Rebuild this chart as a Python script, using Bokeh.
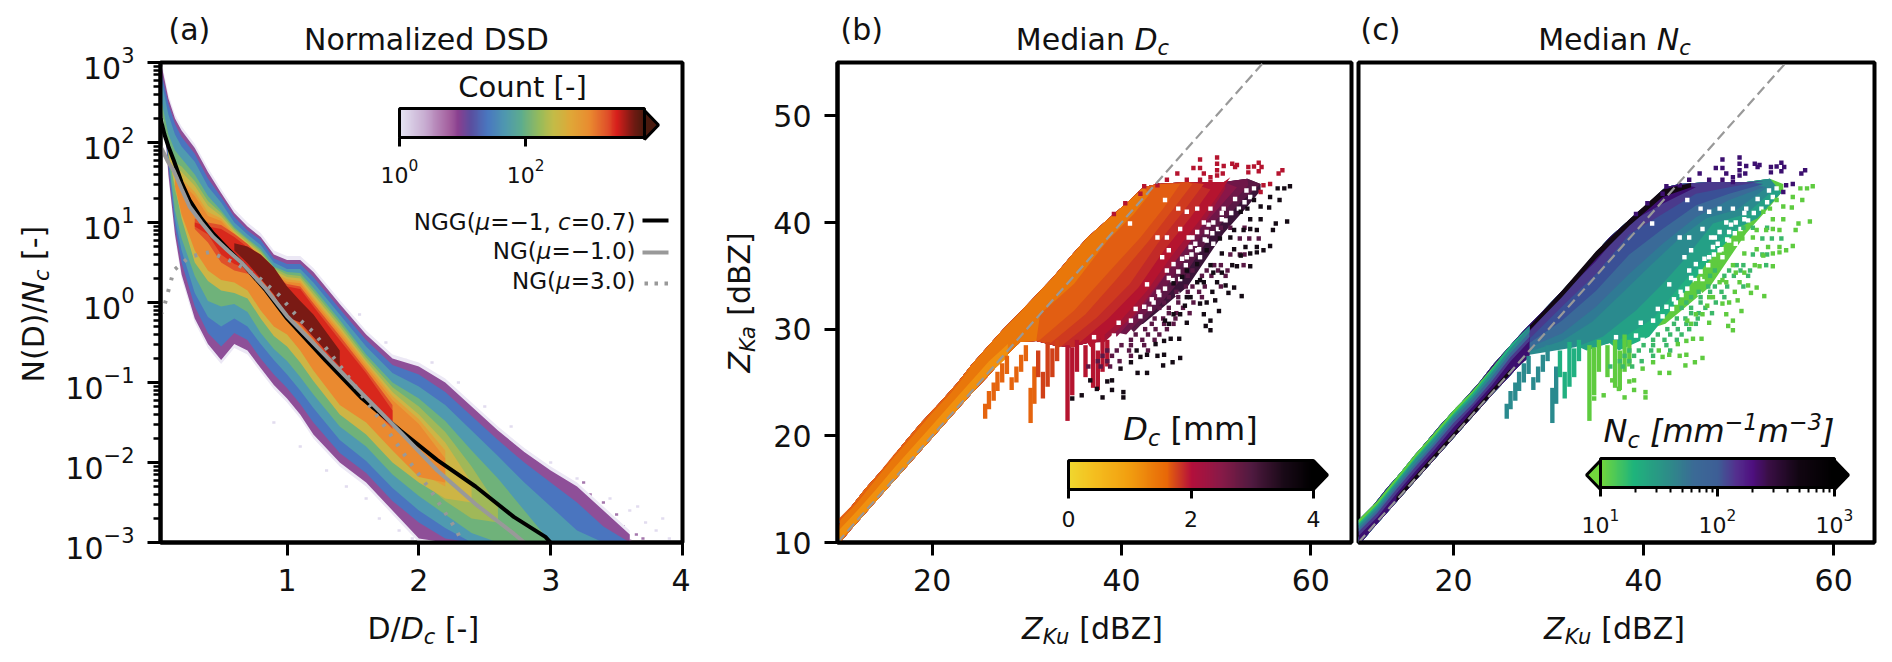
import numpy as np
from bokeh.plotting import figure
from bokeh.layouts import row, column
from bokeh.embed import file_html
from bokeh.resources import INLINE
from bokeh.models import (Label, Range1d, ColorBar, LogColorMapper, LinearColorMapper, FixedTicker,
                          LogTickFormatter, PolyAnnotation, BasicTickFormatter)

# ---------- panel (a): density bands, log10 of N(D)/Nc read at D/Dc grid ----------
D_GRID = [.05,.1,.15,.2,.3,.4,.5,.6,.7,.8,.9,1.0,1.1,1.2,1.4,1.6,1.8,2.0,2.2,2.4,2.6,2.8,3.0,3.2,3.4,3.6]
purple_top = [2.95,2.55,2.3,2.15,1.93,1.63,1.37,1.12,.95,.82,.6,.53,.53,.38,-.02,-.4,-.7,-.8,-1.0,-1.3,-1.6,-1.87,-2.1,-2.3,-2.6,-2.9]
purple_bot = [2.7,1.6,.85,.35,-.2,-.52,-.72,-.52,-.6,-.82,-1.03,-1.2,-1.4,-1.65,-2.0,-2.25,-2.6,-2.95,-3,-3,-3,-3,-3,-3,-3,-3]
blue_top = [2.85,2.48,2.23,2.07,1.86,1.55,1.32,1.07,.9,.78,.55,.48,.48,.32,-.08,-.47,-.78,-.9,-1.12,-1.42,-1.72,-2.0,-2.25,-2.5,-2.8,-3]
blue_bot = [2.6,1.7,.95,.5,-.05,-.38,-.55,-.38,-.47,-.7,-.9,-1.07,-1.27,-1.5,-1.88,-2.13,-2.48,-2.75,-2.95,-3,-3,-3,-3,-3,-3,-3]
teal_top = [2.75,2.35,2.1,1.95,1.76,1.45,1.25,1.0,.85,.72,.5,.42,.42,.25,-.15,-.55,-.88,-1.05,-1.28,-1.6,-1.92,-2.25,-2.55,-2.85,-3]
teal_bot = [2.5,1.8,1.05,.65,.12,-.18,-.3,-.2,-.3,-.52,-.72,-.9,-1.1,-1.32,-1.72,-1.98,-2.32,-2.6,-2.82,-3,-3,-3,-3,-3,-3]
green_top = [2.5,2.1,1.9,1.8,1.6,1.33,1.15,.94,.8,.67,.45,.38,.37,.18,-.22,-.65,-1.0,-1.2,-1.48,-1.85,-2.2,-2.6,-3]
green_bot = [2.4,1.85,1.15,.8,.33,.02,-.05,-.02,-.12,-.38,-.58,-.73,-.93,-1.15,-1.55,-1.8,-2.15,-2.42,-2.65,-2.88,-3,-3,-3]
olive_top = [2.0,1.75,1.7,1.52,1.27,1.12,.92,.78,.64,.43,.35,.33,.14,-.26,-.69,-1.06,-1.3,-1.62,-2.05,-2.55]
olive_bot = [1.9,1.4,1.1,.62,.3,.18,.16,.1,-.16,-.4,-.52,-.72,-.95,-1.36,-1.6,-1.95,-2.2,-2.48,-2.7,-2.75]
yellow_top = [1.9,1.7,1.63,1.46,1.21,1.08,.89,.75,.62,.4,.32,.3,.1,-.3,-.73,-1.12,-1.4,-1.75,-2.25]
yellow_bot = [1.85,1.45,1.05,.5,.27,.15,.12,.05,-.2,-.42,-.55,-.75,-.98,-1.4,-1.65,-2.0,-2.25,-2.45,-2.5]
amber_top = [1.6,1.55,1.38,1.13,1.05,.87,.73,.6,.37,.29,.27,.06,-.34,-.76,-1.17,-1.46,-1.85]
amber_bot = [1.5,1.2,.75,.45,.3,.28,.19,-.06,-.27,-.37,-.57,-.82,-1.25,-1.46,-1.8,-2.12,-2.3]
orange_top = [1.55,1.5,1.33,1.08,1.02,.84,.7,.57,.35,.26,.24,.03,-.38,-.8,-1.22,-1.52,-1.95]
orange_bot = [1.45,1.1,.65,.4,.28,.25,.15,-.1,-.3,-.4,-.6,-.85,-1.28,-1.5,-1.85,-2.18,-2.25]
vermil_top = [1.05,1.0,.97,.86,.73,.56,.33,.23,.2,-.01,-.42,-.84,-1.28]
vermil_bot = [.92,.75,.5,.4,.36,.25,.08,-.15,-.28,-.46,-.9,-1.25,-1.58]
red_top = [1.0,.95,.92,.82,.69,.53,.3,.2,.17,-.05,-.47,-.88,-1.35]
red_bot = [.95,.85,.6,.48,.42,.3,.12,-.1,-.25,-.42,-.85,-1.2,-1.5]
dark_top = [.74,.7,.6,.44,.2,.02,-.15,-.6]
dark_bot = [.65,.49,.3,.1,-.18,-.25,-.43,-.8]
faint_x = [1.3,1.45,1.6,1.7,1.85,1.95,.9,1.1,1.55,1.75,1.9,2.1,2.3,2.5,2.7,3.0,3.2,3.45,3.6,3.72,3.8,3.9,3.66,3.85]
faint_y = [-2.1,-2.3,-2.45,-2.7,-2.85,-2.95,-1.5,-1.8,-.15,-.5,-.72,-.75,-1.0,-1.3,-1.55,-2.0,-2.2,-2.45,-2.6,-2.75,-2.85,-2.95,-2.55,-2.7]
speck_x = [3.3,3.4,3.5,3.55,3.65,3.7,3.45,3.6,3.25,3.35]
speck_y = [-2.4,-2.5,-2.65,-2.8,-2.9,-2.95,-2.75,-2.98,-2.25,-2.55]

ngg_d = [.04,.07,.1,.14,.2,.26,.35,.44,.55,.66,.84,1.0,1.29,1.57,1.86,2.14,2.43,2.72,2.96,3.0]
ngg_y = [2.3,2.1,1.95,1.78,1.5,1.28,1.05,.86,.67,.49,.15,-.2,-.72,-1.2,-1.6,-1.97,-2.3,-2.68,-2.93,-3]
ng_d = [.04,.07,.1,.14,.2,.26,.35,.44,.55,.66,.84,1.0,1.29,1.57,1.86,2.14,2.43,2.72,2.8]
ng_y = [1.95,1.85,1.75,1.65,1.42,1.2,1.0,.82,.65,.49,.17,-.17,-.66,-1.14,-1.62,-2.1,-2.52,-2.89,-3]
ng3_d = [.04,.06,.14,.26,.41,.6,.78,.94,1.1,1.2,1.43,1.72,1.92,2.09,2.28,2.33]
ng3_y = [-.15,-.1,.4,.57,.63,.5,.32,.09,-.22,-.37,-.85,-1.5,-1.97,-2.35,-2.83,-3]

count_ticks = [1, 100]
count_high = 7600
dc_ticks = [0, 2, 4]
nc_ticks = [10, 100, 1000]
nc_minor = [20,30,40,50,60,70,80,90,200,300,400,500,600,700,800,900]

# ---------- panels (b), (c): ZKu / ZKa occupied region ----------
body_x = [10,10.3,11.4,13,15.3,17,18.8,20.8,22.7,24.2,25.8,27.5,29.3,31,32.8,34.6,36.4,38.8,40.9,42.3,43.8,47,50.8,53.3,54.7]
body_top = [10.3,12.1,13.3,15.1,17.4,19.3,21.2,23.1,25,26.7,28.3,30,31.6,33.2,34.9,36.8,38.6,40.5,42.1,43.3,43.6,43.8,43.8,44.1,43.6]
body_low = [10,10,11.2,12.8,15.1,16.8,18.6,20.6,22.5,24,25.5,27.2,28.8,28.9,28.5,28.3,28.7,29.8,30.1,30.5,31.6,34,39,41.5,43]

# median Dc isolines (ZKu, ZKa), darkest region first
dc_iso_x = [[41.3,43.8,46.6,49.7,52.6,54.7],[40.5,43,45.5,48.3,51.2,53.4],[39.5,42,44.5,46.9,49.7,52.2],[38.2,41.3,43.9,46.6,49,51],
            [36.7,39.9,42.7,45.2,48,50.1,51.5],[35,38.6,41.8,44.5,47.3,49.4],[33.5,37.4,40.9,43.8,46.6,48.7],[32.4,36.2,39.4,42.9,45.4,47.5],
            [31.4,35,38.5,42,44.5,46.2],[31.4,35,38.5,41.3,43]]
dc_iso_y = [[29.7,32,35,39.1,41.9,43.6],[29.5,31.9,35,38.6,41.4,43.5],[29.3,31.75,34.9,38,40.8,43.3],[28.8,31.3,34.3,37.4,40.4,43.2],
            [28.3,30.8,33.6,36.75,39.9,42.4,44.25],[28.3,31,33.9,37.4,40.5,43.1],[28.3,31.1,34.25,38,41.1,43.6],[28.6,31.4,34.6,38.3,41.2,43.6],
            [29,31.75,35.2,38.6,41.4,43.6],[31.4,34.25,38.3,40.8,42.7]]
dc_colors = ["#5a1845","#6f1648","#8a1648","#a01538","#b5142f","#c22a28","#cf3a1f","#d94d18","#e25e12","#e9770a"]
# median Nc isolines (ZKu, ZKa), lightest region first
nc_iso_x = [[37.4,40.6,43.4,46.6,49.7,54],[34,37.5,41,43.6,46.2,48.8,52,54.5],[28,32.8,35.7,39.2,42,44.5,47.3,50.8,54],[28,31.4,34.6,38,41,44,46.6,49.8,53],
            [28,31.4,35,38.5,42,45.5,49,52.6],[28,31.4,35,38.5,42,45.5,49,52.6],[28,31.4,35,38.5,42,45.5,49,52.6],[28,31.4,35,38.5,42,45.5]]
nc_iso_y = [[28,29.3,32.4,36.1,39.1,42.4],[28,29,31,33.8,36.5,39,40.4,42.8],[27.6,28.3,29.3,31.75,34.25,36.75,39.9,40.8,43.3],[27.9,28.9,30.7,33.6,36.2,38.7,40.4,41.2,43.3],
            [28.3,29.6,32.1,35.2,38,40.5,42.1,43.3],[28.7,30.8,33.6,37,39.4,41.6,42.7,43.6],[29.1,32.1,35.2,38.9,40.8,42.7,43.3,43.9],[29.8,33.2,36.4,40,41.75,43.3]]
nc_colors = ["#20b080","#24a086","#2a8a8e","#2f7a94","#3a6a98","#3a5096","#4a3a8c","#3c0f6f"]
black_x = [28,31.4,35,38.5,42,45]
black_hi = [30.3,33.6,37.3,40.3,43.1,43.7]
black_lo = [29.9,33,36.6,39.7,42.4,43.3]

strip_x = [10,12,14,16,18,20,22,24,26,28]
strip_top = [12.1,13.9,16.1,18.3,20.3,22.4,24.2,26.3,28.5,30.3]
strip_violet = [10.6,12.4,14.6,16.7,18.7,20.8,22.7,24.7,27,28.9]
strip_blue = [11,12.8,15,17.1,19.1,21.2,23,25.1,27.4,29.3]
strip_teal = [11.3,13.1,15.3,17.4,19.4,21.6,23.4,25.5,27.8,29.7]
strip_green = [11.6,13.4,15.6,17.8,19.8,21.9,23.7,25.9,28.2,30.3]
strip_lime = [11.8,13.6,15.8,18,20,22.1,24,26.2,28.5,30.3]
strip_low = [10,11.8,13.8,15.8,17.8,19.8,21.8,23.8,25.8,27.4]
strip_mid = [11,12.9,14.9,17,19,21,23,25,27,28.6]

finger_x = [25.6,26.0,26.5,26.9,27.4,27.9,28.4,28.9,29.4,29.9,30.4,30.8,31.2,31.7,32.2,32.7,33.2,34.3,34.8,35.3,36.2,37.0,37.5,38.0,38.5]
finger_lo = [21.6,22.5,23.3,24.2,25,25.8,24.3,25,26,27,21.2,23,25.5,23.5,24.6,25.5,27,21.4,23.8,26,25.5,24.5,24.3,26,26.5]
finger_hi = [23,24.2,25,26,26.8,27.5,25.5,26.5,27.6,28.5,24.5,26.5,28,26,28.8,28.2,29,28.5,28.3,29,28.5,29,28,29.5,29]

edge_dots_x = [57.5,57.8,57.2,56.5,56.7,55.7,55.6,54.7,56.3,56,55.7,55,54.3,54.3,53.6,52.7,51.9,51.3,50.3,49.4,48.9,49.4,48.7,48.3,49.9,49,49.6,51,50.1,50.6,51.7,52.6,53.6,53.1,51.9,50.6,49.4,48.3,47.3,46.7,46.9,46.2,46.1,45.2,44.5,43.6,44.5,43.8,46.2,45.4,44.4,42.7,42.7,41.7,41,39.9,39,39,38.5,38,37.4,36.7,35.8,40.2,40.2,34.8,52.2,46.9,48,48.7,49.7,45.5,44.6,45,41.6,42,54.3,53.6,52.9,51.9,54.7,53.6,54,53.3,52.6,51.5,50.4,49,48,46.9,45.5,46.4]
edge_dots_y = [40.1,43.4,43.2,43.2,42.1,42.4,41.4,41.5,39.9,39.3,37.8,37.4,37.7,37.2,35.9,33.1,33.9,33.4,31.7,30.8,30.3,29.9,31.4,32.4,32.7,32.5,33.5,34.1,34.4,35.3,36,36.9,37.1,37.7,37.5,37.1,36,34.6,33,32.2,30.6,31.4,29.1,29.1,28.9,28.6,27.6,27.5,27.3,26.9,26.6,27.6,25.9,25.9,26.9,26.3,25.2,24.3,25.1,23.6,24.4,25.2,23.8,24.1,23.6,23.5,35.9,33,34.4,34.4,35.3,31.4,30.8,30.5,28,27.4,39.3,39.4,39.3,39.3,40.3,40.3,42.1,41.3,41,38.6,38.5,37.4,36.1,35.5,34.3,34.9]
mid_dots_x = [50.5,51.5,53,52.5,53.5,54.5,51.5,52.5,53,49.8,50.5,52.9,47.5,49,50.2,51.2,47,48.5,49.5,51,46.8,47.5,48.8,50.5,45.8,47,48.2,45,46,48.5,44.5,46,47.6,44,45,46.5,45,45.8,47.2,43.5,44.4,45.7,43.2,44.5,45.5,42.5,43.6,44.8,41.5,42.8,44,41,42.2,43.5,40,41,42.4,38.5,39.5,40.8,42.8,38,39,41,37.5,38.5,39.8,36.5,37.8,38.8]
mid_dots_y = [39.5,39.5,39.5,38.5,38.5,38.5,37,37,37,36,36,36,35.5,35.5,35.5,35.5,35,35,35,35,34,34,34,34,33.5,33.5,33.5,33,33,33,32.5,32.5,32.5,32,32,32,31.5,31.5,31.5,31,31,31,30.5,30.5,30.5,30,30,30,29.5,29.5,29.5,29,29,29,28.5,28.5,28.5,28,28,28,28,27.5,27.5,27.5,27,27,27,26.5,26.5,26.5]
top_dots_x = [50.1,48.3,47.6,48.3,50.1,50.1,50.1,50.8,51.7,52.2,52,53.4,54,54.5,54.8,54.5,53.4,50.7,49.4,48.7,49.4,48.3,46.9,45.9,44.8,43.8,42.4,42,40.4,39.2,55.7,55,54.7,56.6,57]
top_dots_y = [46.1,45.9,45.1,45.1,45.5,44.9,44.4,45.3,45.5,45.4,45.2,45.2,45.25,45.6,45.2,44.8,44.7,44.6,44.25,44.6,43.8,44,44,44.6,44,43.5,43.4,42.7,41.8,40.8,43.6,43.5,42.85,44.6,44.9]
hole_x = [46,46.9,44.8,43.8,46.2,48,49,47.5,47.1,45,44.3,45.5,46.9,48.3,44.8,46.2,42.7,43.9,45.9,43.4,41.5,39.7,42.4,44.8,39.2,37.1,39.9,48,49.4,50.8,49.7,48.7,50.6,44.6,40.9,49.7,51.1,52.2,52.6,47.3,48,49,
          41,42,43,44,44.6,45.4,46,46.8,47.4,48.2,48.8,49.6,50.2,51,51.6,52.4,53,53.6,54,43.2,45,46.4,47.8,49.2,50.6,52,53.2]
hole_y = [41.3,41,38.6,38.6,39.4,39.1,39.1,38.6,38.6,37.4,36.75,36.1,36.75,36.75,35.5,34.7,34.2,33.5,33.3,32.5,31.9,30.6,32.1,31.75,29.4,29.25,29,41.3,41.3,41.3,40,40,40.3,42.1,39.9,38,37.7,38.3,39.6,37.7,37.4,38.3,
          30.8,31.2,31.9,33.2,33.8,34.6,35.4,36,37,37.5,38.4,39,39.4,40.2,40.9,41.3,41.9,42.4,43.2,32.8,34.8,36.6,38,39.8,40.9,42.2,43]

# ---------- page geometry (page pixels) ----------
FONT = "DejaVu Sans"
TOP, BOTTOM, PAGE_H, PAGE_W = 62, 542, 650, 1880
A = (160, 682); B = (837, 1351); C = (1358, 1874)
W = {' ':.318,'N':.748,'o':.612,'r':.411,'m':.974,'a':.613,'l':.278,'i':.278,'z':.525,'e':.615,'d':.635,'D':.77,'S':.635,'G':.775,
     '(':.39,')':.39,'/':.337,'[':.39,']':.39,'-':.361,'\u2212':.838,'=':.838,'\u03bc':.636,',':.318,'.':.318,'c':.55,'K':.656,'u':.634,
     'Z':.685,'B':.686,'C':.698,'n':.634,'t':.392,'M':.863}
def tw(s, size):
    return sum(W.get(ch, .636) for ch in s) * size

# transparent figure over the whole page, carrying all texts
ov = figure(width=PAGE_W, height=PAGE_H, x_range=Range1d(0, PAGE_W), y_range=Range1d(0, PAGE_H), toolbar_location=None,
            output_backend="svg", x_axis_location=None, y_axis_location=None, min_border=0,
            background_fill_alpha=0, border_fill_alpha=0, outline_line_color=None)
ov.grid.visible = False

def label(X, Y, s, size, italic=False, angle=0.0, align="left"):
    dy = .3*size
    ox, oy = (dy, 0) if angle else (0, dy)
    ov.add_layout(Label(x=X-ox, y=PAGE_H-Y+oy, x_units="screen", y_units="screen", text=s, angle=angle, level="overlay",
                        text_font=FONT, text_font_size=f"{size}px", text_color="#111111", text_align=align,
                        text_baseline="alphabetic", text_font_style="italic" if italic else "normal"))

def line_of(X, Y, parts, size, vertical=False):
    """parts: (text, italic, scale, shift in em)"""
    for s, it, sc, sh in parts:
        stripped = s.strip()
        lead = tw(s[:len(s)-len(s.lstrip())], size*sc)
        if vertical:
            Y -= lead
            label(X - sh*size, Y, stripped, size*sc, it, np.pi/2)
            Y -= tw(s[len(s)-len(s.lstrip()):], size*sc)
        else:
            X += lead
            label(X, Y - sh*size, stripped, size*sc, it)
            X += tw(s[len(s)-len(s.lstrip()):], size*sc)

def width_of(parts, size):
    return sum(tw(s, size*sc) for s, it, sc, sh in parts)

def ramp(stops, n=256):
    pos = [a for a, _ in stops]
    rgb = np.array([[int(c[i:i+2], 16) for i in (1, 3, 5)] for _, c in stops], float)
    t = np.linspace(0, 1, n)
    ch = [np.interp(t, pos, rgb[:, i]) for i in range(3)]
    return ["#%02x%02x%02x" % (int(r), int(g), int(b)) for r, g, b in zip(*ch)]

COUNT_MAP = ramp([(0,"#e6e6f5"),(.1,"#c9aed2"),(.2,"#a5619f"),(.24,"#8a4090"),(.29,"#5a4fa0"),(.36,"#4a78c0"),(.43,"#4f98b0"),(.5,"#5fae8c"),
                  (.57,"#97bb5c"),(.63,"#c4bc48"),(.7,"#e0a838"),(.78,"#ea8a30"),(.85,"#e0502a"),(.89,"#d81f1c"),(.95,"#7a1a14"),(1,"#4a1a0e")])
DC_MAP = ramp([(0,"#f0d830"),(.1,"#f5c020"),(.25,"#f29e10"),(.4,"#e86808"),(.5,"#b5103c"),(.62,"#8a1a48"),(.75,"#4f1a40"),(.88,"#1a0a18"),(1,"#000000")])
NC_MAP = ramp([(0,"#72d83c"),(.14,"#1fb57c"),(.3,"#2f8a8a"),(.4,"#3b6b96"),(.5,"#3e5f96"),(.58,"#54308f"),(.65,"#4f1080"),(.72,"#3a0f45"),(.85,"#120612"),(1,"#000000")])

def base(width, left, right, xr, yr, ytype="linear"):
    p = figure(width=width, height=PAGE_H, x_range=xr, y_range=yr, y_axis_type=ytype, toolbar_location=None,
               output_backend="svg", min_border_left=left, min_border_right=right, min_border_top=TOP,
               min_border_bottom=PAGE_H-BOTTOM, background_fill_color="white", border_fill_color=None)
    p.grid.visible = False
    p.outline_line_color = "black"; p.outline_line_width = 4; p.outline_line_alpha = 1
    for ax in (p.xaxis[0], p.yaxis[0]):
        ax.axis_line_color = "black"; ax.axis_line_width = 4
        ax.major_tick_line_color = "black"; ax.major_tick_line_width = 3
        ax.major_tick_out = 13; ax.major_tick_in = 0
        ax.minor_tick_line_color = None
        ax.major_label_text_font = FONT; ax.major_label_text_font_size = "30px"
        ax.major_label_text_color = "#111111"; ax.major_label_standoff = 13
    return p

def colorbar(p, fr, mapper, left, right, top, bottom, extra, ticker, formatter, fill_lo=None, fill_hi=None, tip=14):
    cb = ColorBar(color_mapper=mapper, orientation="horizontal", location=(left-fr[0], BOTTOM-bottom-extra), width=right-left, height=bottom-top,
                  padding=0, margin=0, ticker=ticker, formatter=formatter, major_label_text_font=FONT,
                  major_label_text_font_size="22px", major_label_text_color="#111111", bar_line_color="black", bar_line_width=3,
                  major_tick_line_color="black", major_tick_line_width=3, major_tick_out=9, major_tick_in=0,
                  minor_tick_line_color="black", minor_tick_line_width=2, minor_tick_out=5, minor_tick_in=0,
                  label_standoff=12, border_line_color=None, background_fill_alpha=0)
    p.add_layout(cb)
    mid = (top+bottom)/2
    def arrow(xs, col):
        p.add_layout(PolyAnnotation(xs=[x-fr[0] for x in xs], ys=[BOTTOM-top, BOTTOM-mid, BOTTOM-bottom], xs_units="screen", ys_units="screen",
                                    fill_color=col, fill_alpha=1, line_color="black", line_width=3, line_alpha=1, level="overlay"))
    if fill_hi: arrow([right, right+tip, right], fill_hi)
    if fill_lo: arrow([left, left-tip, left], fill_lo)

# ---------- panel (a) ----------
pa = base(690, 160, 8, Range1d(.04, 4.0), Range1d(1e-3, 1e3), "log")
def specks(xs, ys, col):
    xs, ys = np.array(xs), np.array(ys)
    pa.quad(left=xs-.012, right=xs+.012, top=10**(ys+.016), bottom=10**(ys-.016), fill_color=col, line_color=None)
specks(faint_x, faint_y, "#e2dcef")
specks(speck_x, speck_y, "#a577ad")
bands = [(purple_top, purple_bot, "#ece8f5", 0, .05), (purple_top, purple_bot, "#8e4f98", 0, 0), (blue_top, blue_bot, "#4a75bf", 0, 0),
         (teal_top, teal_bot, "#4f9ab0", 0, 0), (green_top, green_bot, "#6fb27a", 0, 0), (olive_top, olive_bot, "#a0b858", 1, 0),
         (yellow_top, yellow_bot, "#cdb545", 1, 0), (amber_top, amber_bot, "#e3a038", 2, 0), (orange_top, orange_bot, "#ea8a30", 2, 0),
         (vermil_top, vermil_bot, "#e0502a", 4, 0), (red_top, red_bot, "#d8281c", 4, 0), (dark_top, dark_bot, "#7a1a14", 7, 0)]
for top, bot, col, start, grow in bands:
    xs = np.array(D_GRID[start:start+len(top)])
    pa.varea(x=xs, y1=10**(np.array(top)+grow), y2=10**(np.array(bot)-grow), fill_color=col)
pa.line(ngg_d, 10**np.array(ngg_y), line_color="black", line_width=4)
pa.line(ng_d, 10**np.array(ng_y), line_color="#999999", line_width=4)
pa.line(ng3_d, 10**np.array(ng3_y), line_color="#999999", line_width=4, line_dash="3 9")
pa.xaxis.ticker = FixedTicker(ticks=[1, 2, 3, 4])
pa.yaxis.ticker = FixedTicker(ticks=[10.0**k for k in range(-3, 4)],
                              minor_ticks=[m*10.0**k for k in range(-3, 3) for m in range(2, 10)])
pa.yaxis.formatter = LogTickFormatter()
pa.yaxis.minor_tick_line_color = "black"; pa.yaxis.minor_tick_line_width = 2.5
pa.yaxis.minor_tick_out = 7; pa.yaxis.minor_tick_in = 0

label(168, 38, "(a)", 30)
label(426, 48, "Normalized DSD", 30, align="center")
label(522, 95, "Count [-]", 29, align="center")
line_of(42, 382, [("N(D)/", False, 1, 0), ("N", True, 1, 0), ("c", True, .7, -.18), (" [-]", False, 1, 0)], 30, vertical=True)
line_of(367, 637, [("D/", False, 1, 0), ("D", True, 1, 0), ("c", True, .7, -.18), (" [-]", False, 1, 0)], 30)
colorbar(pa, A, LogColorMapper(palette=COUNT_MAP, low=1, high=count_high), 399, 644, 110, 139, 46,
         FixedTicker(ticks=count_ticks), LogTickFormatter(), fill_hi="#4a1a0e")
leg_end = 635
legs = [(228, [("NGG(", False, 1, 0), ("\u03bc", True, 1, 0), ("=\u22121, ", False, 1, 0), ("c", True, 1, 0), ("=0.7)", False, 1, 0)]),
        (257, [("NG(", False, 1, 0), ("\u03bc", True, 1, 0), ("=\u22121.0)", False, 1, 0)]),
        (287, [("NG(", False, 1, 0), ("\u03bc", True, 1, 0), ("=3.0)", False, 1, 0)])]
for y, parts in legs:
    line_of(leg_end-width_of(parts, 23), y, parts, 23)

# legend swatches
for y, col, dash in [(220, "black", None), (252, "#999999", None), (283, "#999999", "dot")]:
    if dash is None:
        pa.add_layout(PolyAnnotation(xs=[642-A[0], 668-A[0], 668-A[0], 642-A[0]], ys=[BOTTOM-y+2, BOTTOM-y+2, BOTTOM-y-2, BOTTOM-y-2],
                                     xs_units="screen", ys_units="screen", fill_color=col, fill_alpha=1, line_color=None))
    else:
        for xx in (644, 654, 664):
            pa.add_layout(PolyAnnotation(xs=[xx-A[0], xx+3.5-A[0], xx+3.5-A[0], xx-A[0]], ys=[BOTTOM-y+2, BOTTOM-y+2, BOTTOM-y-2, BOTTOM-y-2],
                                         xs_units="screen", ys_units="screen", fill_color=col, fill_alpha=1, line_color=None))

# ---------- panels (b),(c) ----------
bx, bt, bl = np.array(body_x), np.array(body_top), np.array(body_low)
def region(ix, iy):
    ix, iy = np.array(ix), np.array(iy)
    m_top = bx <= ix[-1]
    m_low = bx < ix[0]
    return (np.r_[bx[m_top], ix[::-1], bx[m_low][::-1]], np.r_[bt[m_top], iy[::-1], bl[m_low][::-1]])

def cells(p, xs, ys, col):
    p.rect(xs, ys, width=.46, height=.42, fill_color=col, line_color=None)

pb = base(664, 147, 3, Range1d(10, 64.3), Range1d(10, 55))
pb.patch(*region(body_x, body_low), fill_color="#3a1438", line_color=None)
for ix, iy, col in zip(dc_iso_x, dc_iso_y, dc_colors):
    pb.patch(*region(ix, iy), fill_color=col, line_color=None)
pb.varea(strip_x, strip_low, strip_mid, fill_color="#f0900e")
pb.varea(strip_x[:8], np.array(strip_lime[:8])+.05, strip_top[:8], fill_color="#e25e12")
pb.vbar(finger_x, width=.46, bottom=finger_lo, top=finger_hi,
        fill_color=["#e5640e"]*12 + ["#d04018"]*5 + ["#b5142f"]*8, line_color=None)
cells(pb, hole_x, hole_y, "white")
cells(pb, mid_dots_x, mid_dots_y, "#5a1845")
cells(pb, edge_dots_x, edge_dots_y, "#140a14")
cells(pb, top_dots_x, top_dots_y, "#b5142f")
pb.line([10, 55], [10, 55], line_color="#999999", line_width=2.2, line_dash="10 5")

pc = base(526, 4, 6, Range1d(10, 64.3), Range1d(10, 55))
pc.patch(*region(body_x, body_low), fill_color="#5ecb3f", line_color=None)
for ix, iy, col in zip(nc_iso_x, nc_iso_y, nc_colors):
    pc.patch(*region(ix, iy), fill_color=col, line_color=None)
pc.varea(black_x, black_lo, black_hi, fill_color="#120812")
pc.varea(strip_x, strip_low, strip_top, fill_color="#3c0f6f")
pc.varea(strip_x[2:9], np.array(strip_low[2:9])+.02, np.array(strip_low[2:9])+.5, fill_color="#120812")
for arr, col in [(strip_violet, "#4a3a8c"), (strip_blue, "#3a6a98"), (strip_teal, "#2a8a8e"), (strip_green, "#20b080"), (strip_lime, "#5ecb3f")]:
    pc.varea(strip_x, arr, strip_top, fill_color=col)
pc.vbar(finger_x, width=.46, bottom=finger_lo, top=finger_hi,
        fill_color=["#2a8a8e"]*12 + ["#20b080"]*5 + ["#5ecb3f"]*8, line_color=None)
cells(pc, hole_x, hole_y, "white")
cells(pc, mid_dots_x, mid_dots_y, "#3bb86a")
cells(pc, edge_dots_x, edge_dots_y, "#5ecb3f")
cells(pc, top_dots_x, top_dots_y, "#3c0f6f")
pc.line([10, 55], [10, 55], line_color="#999999", line_width=2.2, line_dash="10 5")

for p in (pb, pc):
    p.xaxis.ticker = FixedTicker(ticks=[20, 40, 60])
pb.yaxis.ticker = FixedTicker(ticks=[10, 20, 30, 40, 50])
pc.yaxis.visible = False

label(840, 38, "(b)", 30)
label(1360, 38, "(c)", 30)
for cx, s, v in [(1092, "Median ", "D"), (1614, "Median ", "N")]:
    parts = [(s, False, 1, 0), (v, True, 1, 0), ("c", True, .7, -.18)]
    line_of(cx-width_of(parts, 30)/2, 48, parts, 30)
zl = [("Z", True, 1, 0), ("Ku", True, .7, -.18), (" [dBZ]", False, 1, 0)]
line_of(1092-width_of(zl, 30)/2, 637, zl, 30)
line_of(1614-width_of(zl, 30)/2, 637, zl, 30)
line_of(748, 372, [("Z", True, 1, 0), ("Ka", True, .7, -.18), (" [dBZ]", False, 1, 0)], 30, vertical=True)

dl = [("D", True, 1, 0), ("c", True, .7, -.18), (" [mm]", False, 1, 0)]
line_of(1190-width_of(dl, 32)/2, 438, dl, 32)
colorbar(pb, B, LinearColorMapper(palette=DC_MAP, low=0, high=4), 1068, 1313, 460, 489, 40,
         FixedTicker(ticks=dc_ticks), BasicTickFormatter(), fill_hi="#000000")
nl = [("N", True, 1, 0), ("c", True, .7, -.18), (" [mm", True, 1, 0), ("\u22121", True, .7, .38), ("m", True, 1, 0), ("\u22123", True, .7, .38), ("]", True, 1, 0)]
line_of(1603, 440, nl, 32)
colorbar(pc, C, LogColorMapper(palette=NC_MAP, low=10, high=1000), 1600, 1834, 460, 489, 46,
         FixedTicker(ticks=nc_ticks, minor_ticks=nc_minor), LogTickFormatter(), fill_lo="#72d83c", fill_hi="#000000")

panels = row(pa, pb, pc, spacing=0, margin=(0, 0, -PAGE_H, 0))
layout = column(panels, ov, spacing=0)
open("out.html", "w").write(file_html(layout, INLINE))
